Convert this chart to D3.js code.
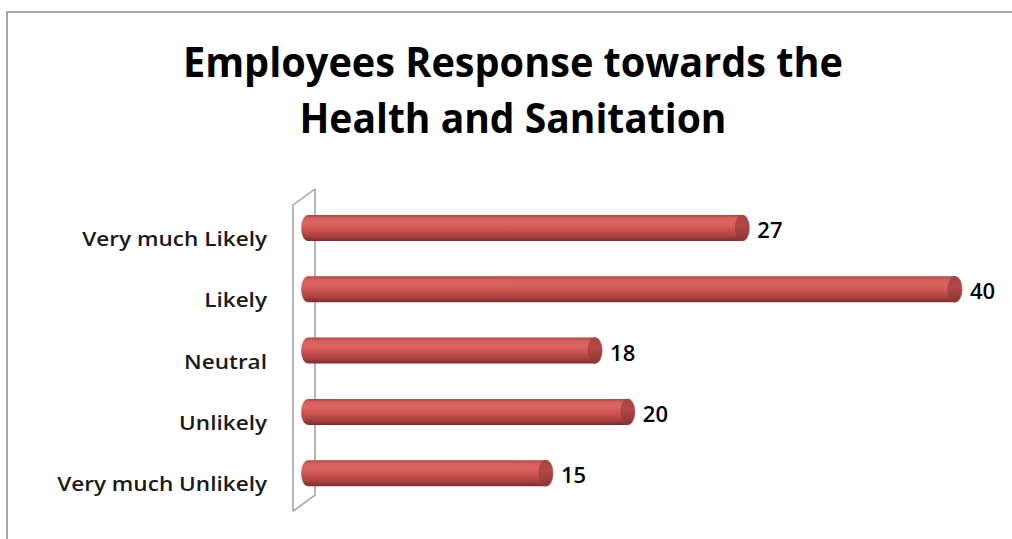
<!DOCTYPE html>
<html>
<head>
<meta charset="utf-8">
<script src="https://cdn.jsdelivr.net/npm/d3@7"></script>
<style>
  html, body { margin: 0; padding: 0; background: #fff; }
  svg { display: block; }
</style>
</head>
<body>
<svg id="chart" width="1012" height="539"></svg>
<script>
const titleLines = ["Employees Response towards the", "Health and Sanitation"];
const categories = ["Very much Likely", "Likely", "Neutral", "Unlikely", "Very much Unlikely"];
const values = [27, 40, 18, 20, 15];
const xDomain = [0, 40];

const svg = d3.select("#chart");
const W = 1012, H = 539;

// outer chart border (cropped at right/bottom)
svg.append("rect")
  .attr("x", 7).attr("y", 12).attr("width", W + 50).attr("height", H + 50)
  .attr("fill", "#fff").attr("stroke", "#a6a6a6").attr("stroke-width", 2);

// title
const title = svg.append("g");
const titleWidths = [660, 427];
titleLines.forEach((t, i) => {
  title.append("text")
    .attr("x", 513).attr("y", 77 + i * 56)
    .attr("text-anchor", "middle")
    .attr("font-family", "'Open Sans', sans-serif")
    .attr("font-weight", "bold")
    .attr("font-size", 41)
    .attr("fill", "#000")
    .attr("textLength", titleWidths[i])
    .attr("lengthAdjust", "spacingAndGlyphs")
    .text(t);
});

// scales
const x = d3.scaleLinear().domain(xDomain).range([307.6, 962]);
const y = d3.scalePoint().domain(categories).range([228, 473.2]);
const barH = 26, capRx = 7;

// gradient
const defs = svg.append("defs");
const grad = defs.append("linearGradient").attr("id", "cyl")
  .attr("x1", 0).attr("y1", 0).attr("x2", 0).attr("y2", 1);
[[0, "#a94543"], [0.12, "#d4605d"], [0.32, "#dc6461"], [0.55, "#cb5451"], [0.8, "#a9413f"], [1, "#7d2d2b"]]
  .forEach(([o, c]) => grad.append("stop").attr("offset", o).attr("stop-color", c));
const capGrad = defs.append("linearGradient").attr("id", "cap")
  .attr("x1", 0).attr("y1", 0).attr("x2", 0).attr("y2", 1);
[[0, "#a64442"], [0.4, "#b24946"], [1, "#883432"]]
  .forEach(([o, c]) => capGrad.append("stop").attr("offset", o).attr("stop-color", c));

// back wall (3D plane)
const wall = svg.append("g").attr("fill", "none").attr("stroke", "#a0a0a0").attr("stroke-width", 1.5);
const wy0 = y(categories[0]) - 23, wy1 = y(categories[categories.length - 1]) + 38;
const wxL = x(0) - 14.6, wxR = x(0) + 7.4, dz = 16;
wall.append("path")
  .attr("d", `M${wxL},${wy1} L${wxL},${wy0} L${wxR},${wy0 - dz} L${wxR},${wy1 - dz} L${wxL},${wy1}`)
  .attr("stroke-linejoin", "round");

// bars
const bars = svg.append("g");
categories.forEach((c, i) => {
  const cy = y(c);
  const x0 = x(0) - capRx + 0.5;
  const x1 = x(values[i]);
  const top = cy - barH / 2, bot = cy + barH / 2;
  const g = bars.append("g");
  g.append("path")
    .attr("d", `M${x1 - capRx},${top} L${x0 + capRx},${top} A${capRx},${barH / 2} 0 0 0 ${x0 + capRx},${bot} L${x1 - capRx},${bot} Z`)
    .attr("fill", "url(#cyl)");
  g.append("ellipse")
    .attr("cx", x1 - capRx).attr("cy", cy).attr("rx", capRx).attr("ry", barH / 2)
    .attr("fill", "url(#cap)").attr("stroke", "#93403e").attr("stroke-width", 0.6);
});

// category labels
const labels = svg.append("g")
  .attr("font-family", "'Open Sans', sans-serif")
  .attr("font-weight", 600)
  .attr("font-size", 20.5).attr("fill", "#1a1a1a");
categories.forEach((c) => {
  const t = labels.append("text")
    .attr("x", 267).attr("y", y(c) + 18)
    .attr("text-anchor", "end")
    .text(c);
  const w = t.node().getComputedTextLength();
  t.attr("textLength", w * 1.1).attr("lengthAdjust", "spacingAndGlyphs");
});

// value labels
const vlabels = svg.append("g")
  .attr("font-family", "'Open Sans', sans-serif")
  .attr("font-weight", 600)
  .attr("font-size", 22).attr("fill", "#000");
categories.forEach((c, i) => {
  vlabels.append("text")
    .attr("x", x(values[i]) + 8).attr("y", y(c) + 10)
    .text(values[i]);
});
</script>
</body>
</html>
